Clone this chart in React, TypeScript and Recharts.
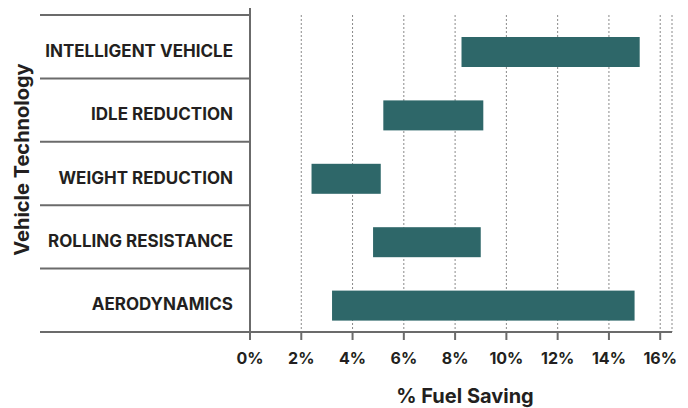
import React from "react";
import {
  BarChart,
  Bar,
  XAxis,
  YAxis,
  CartesianGrid,
  Label,
} from "recharts";

const categories = [
  "INTELLIGENT VEHICLE",
  "IDLE REDUCTION",
  "WEIGHT REDUCTION",
  "ROLLING RESISTANCE",
  "AERODYNAMICS",
];
const lowSaving = [8.25, 5.2, 2.4, 4.8, 3.2];
const highSaving = [15.2, 9.1, 5.1, 9.0, 15.0];
const xTicks = [0, 2, 4, 6, 8, 10, 12, 14, 16];

const FONT = "Inter, 'Open Sans', sans-serif";
const INK = "#231f20";
const RULE = "#6b6b6b";
const TEAL = "#2e6769";
const TICK_GAP = 17;
// bars and labels sit a little below the band centre in the original
const ROW_SHIFT = 5;

const chartData = categories.map((name, i) => ({
  name,
  range: [lowSaving[i], highSaving[i]],
}));

const CategoryTick = (props: any) => {
  const { x, y, payload, index } = props;
  const half = payload.offset || 31.7;
  const axisX = x + TICK_GAP;
  const last = index === categories.length - 1;
  return (
    <g>
      <line x1={40} x2={axisX} y1={y - half} y2={y - half} stroke={RULE} strokeWidth={2} />
      {index === 0 && (
        <line x1={axisX} x2={axisX} y1={y - half - 7} y2={y - half} stroke={RULE} strokeWidth={2} />
      )}
      {last && (
        <line x1={40} x2={axisX} y1={y + half} y2={y + half} stroke={RULE} strokeWidth={2} />
      )}
      <text
        x={x}
        y={y + 4}
        dy="0.36em"
        textAnchor="end"
        fill={INK}
        fontSize={17}
        fontWeight={700}
        fontFamily={FONT}
      >
        {payload.value}
      </text>
    </g>
  );
};

const ShiftedBar = (props: any) => {
  const { x, y, width, height, fill } = props;
  return <rect x={x} y={y + ROW_SHIFT} width={width} height={height} fill={fill} />;
};

export default function App() {
  return (
    <div style={{ width: 688, height: 408 }}>
      <style>{`body{margin:0}`}</style>
      <BarChart
        width={688}
        height={408}
        data={chartData}
        layout="vertical"
        margin={{ top: 15, right: 16, left: 0, bottom: 0 }}
      >
        <CartesianGrid
          horizontal={false}
          vertical
          stroke="#8a8a8a"
          strokeDasharray="2 2"
        />
        <XAxis
          type="number"
          domain={[0, 16.46]}
          ticks={xTicks}
          tickFormatter={(v) => `${v}%`}
          height={76}
          axisLine={{ stroke: RULE, strokeWidth: 2 }}
          tickLine={{ stroke: RULE, strokeWidth: 2 }}
          tickSize={8}
          tickMargin={13}
          tick={{ fill: INK, fontSize: 16, fontWeight: 700, fontFamily: FONT }}
        >
          <Label
            content={({ viewBox }: any) => (
              <text
                x={viewBox.x + viewBox.width / 2 + 4}
                y={viewBox.y + viewBox.height - 5}
                textAnchor="middle"
                fill={INK}
                fontSize={20}
                fontWeight={700}
                fontFamily={FONT}
              >
                % Fuel Saving
              </text>
            )}
          />
        </XAxis>
        <YAxis
          type="category"
          dataKey="name"
          width={250}
          axisLine={{ stroke: RULE, strokeWidth: 2 }}
          tickLine={false}
          tickSize={0}
          tickMargin={TICK_GAP}
          tick={<CategoryTick />}
          interval={0}
        >
          <Label
            content={({ viewBox }: any) => {
              const cx = viewBox.x + 22;
              const cy = viewBox.y + viewBox.height / 2 - 14;
              return (
                <text
                  x={cx}
                  y={cy}
                  dy="0.36em"
                  textAnchor="middle"
                  transform={`rotate(-90, ${cx}, ${cy})`}
                  fill={INK}
                  fontSize={20}
                  fontWeight={700}
                  fontFamily={FONT}
                >
                  Vehicle Technology
                </text>
              );
            }}
          />
        </YAxis>
        <Bar
          dataKey="range"
          fill={TEAL}
          barSize={30}
          shape={<ShiftedBar />}
          isAnimationActive={false}
        />
      </BarChart>
    </div>
  );
}
